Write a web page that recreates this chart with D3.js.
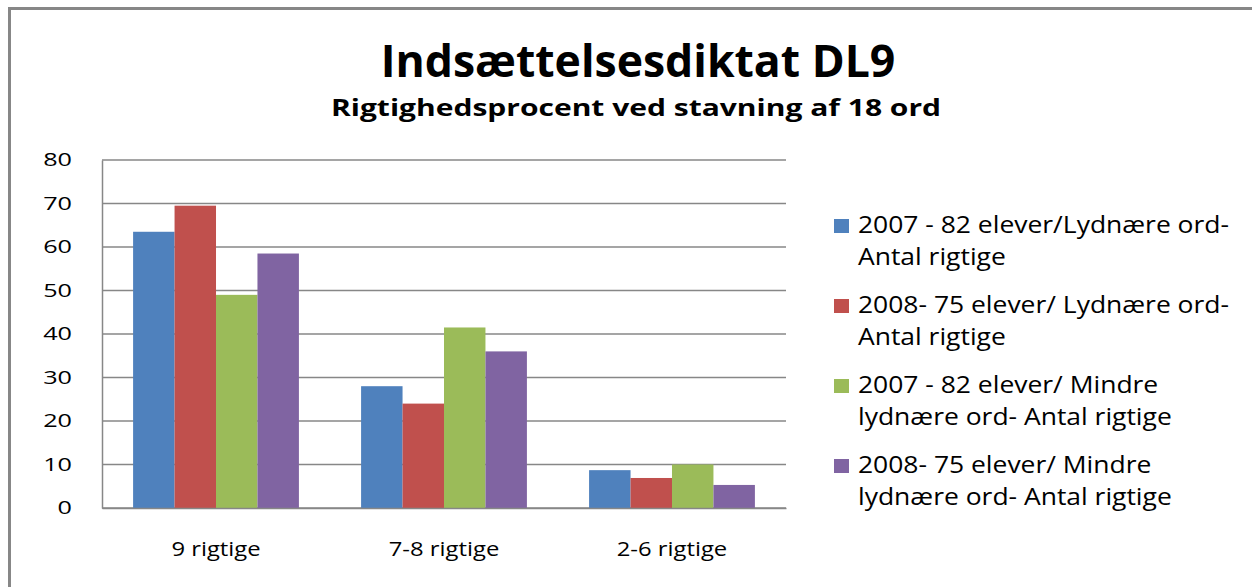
<!DOCTYPE html>
<html>
<head>
<meta charset="utf-8">
<script src="https://cdn.jsdelivr.net/npm/d3@7"></script>
<style>
  body { margin: 0; background: #fff; }
  text { font-family: "Open Sans", sans-serif; fill: #000; }
</style>
</head>
<body>
<script>
var width = 1252, height = 587;

// data
var categories = ["9 rigtige", "7-8 rigtige", "2-6 rigtige"];
var seriesNames = [
  ["2007 - 82 elever/Lydnære ord-", "Antal rigtige"],
  ["2008- 75 elever/ Lydnære ord-", "Antal rigtige"],
  ["2007 - 82 elever/ Mindre", "lydnære ord- Antal rigtige"],
  ["2008- 75 elever/ Mindre", "lydnære ord- Antal rigtige"]
];
var s2007Lyd = [63.5, 28, 8.7];
var s2008Lyd = [69.5, 24, 6.9];
var s2007Mindre = [49, 41.5, 10];
var s2008Mindre = [58.5, 36, 5.3];
var yTicks = [0, 10, 20, 30, 40, 50, 60, 70, 80];
var colors = ["#4F81BD", "#C0504D", "#9BBB59", "#8064A2"];

var series = [s2007Lyd, s2008Lyd, s2007Mindre, s2008Mindre];

var svg = d3.select("body").append("svg")
    .attr("width", width).attr("height", height);

// the original picture is stretched sideways, so widen text to fit
function stretch(sel, f) {
  sel.each(function() {
    var len = this.getComputedTextLength();
    d3.select(this).attr("textLength", len * f).attr("lengthAdjust", "spacingAndGlyphs");
  });
}

// outer chart frame (only top and left visible)
svg.append("path").attr("d", "M9.5,587 V8.5 H1252")
    .attr("fill", "none").attr("stroke", "#878787").attr("stroke-width", 3);

svg.append("text").attr("x", 638).attr("y", 77).attr("text-anchor", "middle")
    .style("font-size", "45px").style("font-weight", "bold")
    .text("Indsættelsesdiktat DL9")
    .call(stretch, 0.99);
svg.append("text").attr("x", 636).attr("y", 116).attr("text-anchor", "middle")
    .style("font-size", "24px").style("font-weight", "bold")
    .text("Rigtighedsprocent ved stavning af 18 ord")
    .call(stretch, 1.25);

var x0 = d3.scaleBand().domain(categories).range([102, 786]).paddingInner(0.2727).paddingOuter(0.1364);
var x1 = d3.scaleBand().domain(d3.range(series.length)).range([0, x0.bandwidth()]);
var y = d3.scaleLinear().domain([0, 80]).range([508, 160]);

// gridlines
svg.append("g").selectAll("line").data(yTicks).enter().append("line")
    .attr("x1", 102).attr("x2", 786)
    .attr("y1", function(d){return y(d);}).attr("y2", function(d){return y(d);})
    .attr("stroke", "#878787").attr("stroke-width", 1.5);

var yAxis = svg.append("g").attr("transform", "translate(102,0)")
    .call(d3.axisLeft(y).tickValues(yTicks).tickSize(0).tickPadding(30));
yAxis.select(".domain").attr("stroke", "#878787").attr("stroke-width", 1.5);
yAxis.selectAll("text").style("font-size", "18px").style("font-family", "'Open Sans', sans-serif")
    .attr("fill", "#222").call(stretch, 1.4);

// bars
var groups = svg.append("g").selectAll("g").data(categories).enter().append("g")
    .attr("transform", function(d){return "translate(" + x0(d) + ",0)";});
groups.selectAll("rect").data(function(d, i){return series.map(function(s, k){return {k: k, v: s[i]};});})
  .enter().append("rect")
    .attr("x", function(d){return x1(d.k);})
    .attr("width", x1.bandwidth())
    .attr("y", function(d){return y(d.v);})
    .attr("height", function(d){return y(0) - y(d.v);})
    .attr("fill", function(d){return colors[d.k];});

var xAxis = svg.append("g").attr("transform", "translate(0,508)")
    .call(d3.axisBottom(x0).tickSize(0).tickPadding(34));
xAxis.select(".domain").attr("stroke", "#878787").attr("stroke-width", 1.5);
xAxis.selectAll("text").style("font-size", "20px").style("font-family", "'Open Sans', sans-serif")
    .attr("fill", "#000").call(stretch, 1.19);

// legend
var legend = svg.append("g").selectAll("g").data(seriesNames).enter().append("g")
    .attr("transform", function(d, i){return "translate(834," + (219 + i * 80) + ")";});
legend.append("rect").attr("width", 15).attr("height", 14)
    .attr("fill", function(d, i){return colors[i];});
legend.append("text").attr("x", 24).attr("y", 14).style("font-size", "23px")
    .text(function(d){return d[0];}).call(stretch, 1.15);
legend.append("text").attr("x", 24).attr("y", 46).style("font-size", "23px")
    .text(function(d){return d[1];}).call(stretch, 1.15);
</script>
</body>
</html>
